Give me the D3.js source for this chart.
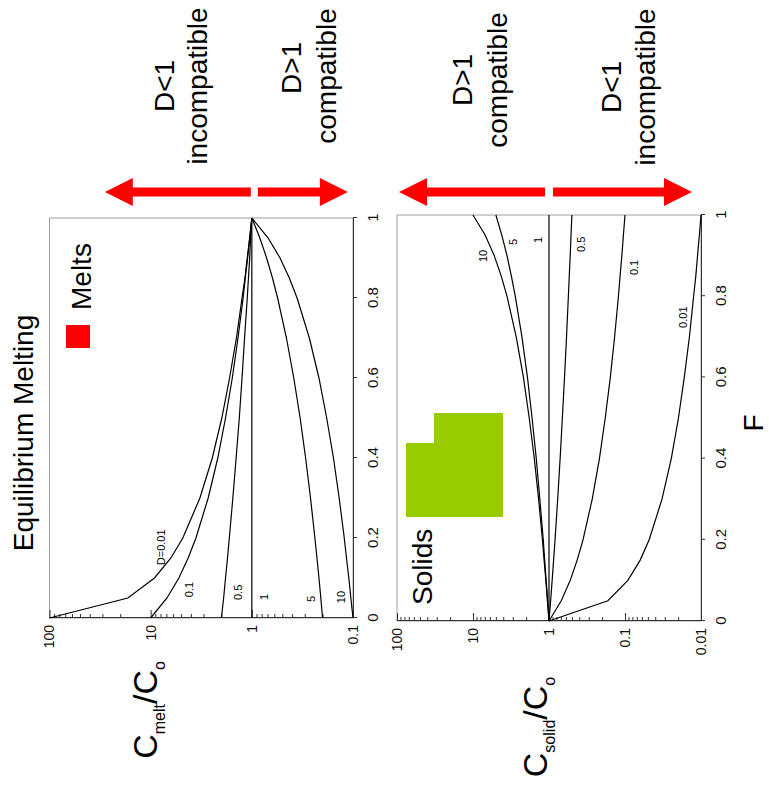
<!DOCTYPE html>
<html><head><meta charset="utf-8">
<script src="https://cdn.jsdelivr.net/npm/d3@7"></script>
<style>body{margin:0;background:#fff}</style>
</head><body>
<svg id="c" width="769" height="785"></svg>
<script>
// ---------- DATA ----------
const F = [0, 0.05, 0.1, 0.15, 0.2, 0.3, 0.4, 0.5, 0.6, 0.7, 0.8, 0.85, 0.9, 0.95, 1];
const fTicks = [0, 0.2, 0.4, 0.6, 0.8, 1];
const fTickLabels = ["0", "0.2", "0.4", "0.6", "0.8", "1"];

const meltTicks = [100, 10, 1, 0.1];
const meltTickLabels = ["100", "10", "1", "0.1"];
const solidTicks = [100, 10, 1, 0.1, 0.01];
const solidTickLabels = ["100", "10", "1", "0.1", "0.01"];

const Dlabels = ["0.01", "0.1", "0.5", "1", "5", "10"];

const melt_D001 = [100, 16.8, 9.17, 6.31, 4.81, 3.26, 2.46, 1.98, 1.66, 1.42, 1.25, 1.17, 1.11, 1.05, 1];
const melt_D01  = [10, 6.90, 5.26, 4.26, 3.57, 2.70, 2.17, 1.82, 1.56, 1.37, 1.22, 1.16, 1.10, 1.05, 1];
const melt_D05  = [2, 1.90, 1.82, 1.74, 1.67, 1.54, 1.43, 1.33, 1.25, 1.18, 1.11, 1.08, 1.05, 1.03, 1];
const melt_D1   = [1, 1, 1, 1, 1, 1, 1, 1, 1, 1, 1, 1, 1, 1, 1];
const melt_D5   = [0.2, 0.208, 0.217, 0.227, 0.238, 0.263, 0.294, 0.333, 0.385, 0.455, 0.556, 0.625, 0.714, 0.833, 1];
const melt_D10  = [0.1, 0.105, 0.110, 0.116, 0.122, 0.137, 0.156, 0.182, 0.217, 0.270, 0.357, 0.426, 0.526, 0.690, 1];

const solid_D001 = [1, 0.168, 0.0917, 0.0631, 0.0481, 0.0326, 0.0246, 0.0198, 0.0166, 0.0142, 0.0125, 0.0117, 0.0111, 0.0105, 0.01];
const solid_D01  = [1, 0.690, 0.526, 0.426, 0.357, 0.270, 0.217, 0.182, 0.156, 0.137, 0.122, 0.116, 0.110, 0.105, 0.1];
const solid_D05  = [1, 0.952, 0.909, 0.870, 0.833, 0.769, 0.714, 0.667, 0.625, 0.588, 0.556, 0.541, 0.526, 0.513, 0.5];
const solid_D1   = [1, 1, 1, 1, 1, 1, 1, 1, 1, 1, 1, 1, 1, 1, 1];
const solid_D5   = [1, 1.04, 1.09, 1.14, 1.19, 1.32, 1.47, 1.67, 1.92, 2.27, 2.78, 3.13, 3.57, 4.17, 5];
const solid_D10  = [1, 1.05, 1.10, 1.16, 1.22, 1.37, 1.56, 1.82, 2.17, 2.70, 3.57, 4.26, 5.26, 6.90, 10];

// curve label anchors (F, C)
const meltLabelText = ["D=0.01", "0.1", "0.5", "1", "5", "10"];
const meltLabelF = [0.132, 0.052, 0.045, 0.045, 0.04, 0.037];
const meltLabelC = [7.2, 3.8, 1.24, 0.70, 0.235, 0.119];
const solidLabelText = ["0.01", "0.1", "0.5", "1", "5", "10"];
const solidLabelF = [0.722, 0.852, 0.909, 0.931, 0.926, 0.884];
const solidLabelC = [0.0153, 0.0675, 0.336, 1.24, 2.6, 6.5];

// ---------- DRAWING ----------
const W = 769, H = 785;
const font = "'Liberation Sans', Arial, Helvetica, sans-serif";
const svg = d3.select("#c");
// whole figure is rotated 90deg counter-clockwise; local u = horizontal, v = vertical
const root = svg.append("g").attr("transform", `translate(0,${H}) rotate(-90)`)
  .attr("font-family", font);

function panel(cfg) {
  const x = d3.scaleLinear().domain([0, 1]).range([cfg.u0, cfg.u1]);
  const y = d3.scaleLog().domain(cfg.cDomain).range([cfg.v0, cfg.v1]);
  const g = root.append("g");
  g.append("rect").attr("x", cfg.u0).attr("y", cfg.v0)
    .attr("width", cfg.u1 - cfg.u0).attr("height", cfg.v1 - cfg.v0)
    .attr("fill", "none").attr("stroke", "#a0a0a0").attr("stroke-width", 1);

  const isDecade = t => Math.abs(Math.log10(t) - Math.round(Math.log10(t))) < 1e-6;
  const minor = y.ticks().filter(t => !isDecade(t));
  const ayMinor = d3.axisLeft(y).tickValues(minor).tickFormat("").tickSizeInner(-4).tickSizeOuter(0);
  const gm = g.append("g").attr("transform", `translate(${cfg.u0},0)`).call(ayMinor);
  gm.select(".domain").remove();
  const ay = d3.axisLeft(y).tickValues(cfg.ticks).tickFormat((d, i) => cfg.tickLabels[i])
    .tickSizeInner(-8).tickSizeOuter(0).tickPadding(7);
  const ga = g.append("g").attr("transform", `translate(${cfg.u0},0)`).call(ay);
  ga.selectAll("text").attr("font-size", 14).attr("font-family", font).attr("fill", "#111");
  [gm, ga].forEach(s => s.selectAll("line").attr("stroke", "#333"));
  ga.select(".domain").attr("stroke", "#333");

  const ax = d3.axisBottom(x).tickValues(fTicks).tickFormat((d, i) => fTickLabels[i])
    .tickSizeInner(4).tickSizeOuter(0).tickPadding(10);
  const gx = g.append("g").attr("transform", `translate(0,${cfg.v1})`).call(ax);
  gx.selectAll("text").attr("font-size", 15).attr("font-family", font).attr("fill", "#111");
  gx.selectAll("line").attr("stroke", "#333");
  gx.select(".domain").attr("stroke", "#333");

  const line = d3.line().x((d, i) => x(F[i])).y(d => y(d));
  cfg.series.forEach(s => {
    g.append("path").attr("d", line(s)).attr("fill", "none")
      .attr("stroke", "#000").attr("stroke-width", 1.2);
  });
  cfg.labelText.forEach((t, i) => {
    g.append("text").attr("x", x(cfg.labelF[i])).attr("y", y(cfg.labelC[i]))
      .attr("font-size", 11).attr("fill", "#000").text(t);
  });
  return { x, y };
}

const m = panel({
  u0: 167, u1: 567, v0: 49.5, v1: 353, cDomain: [100, 0.1],
  ticks: meltTicks, tickLabels: meltTickLabels,
  series: [melt_D001, melt_D01, melt_D05, melt_D1, melt_D5, melt_D10],
  labelText: meltLabelText, labelF: meltLabelF, labelC: meltLabelC
});
const s = panel({
  u0: 164, u1: 570, v0: 397, v1: 701, cDomain: [100, 0.01],
  ticks: solidTicks, tickLabels: solidTickLabels,
  series: [solid_D001, solid_D01, solid_D05, solid_D1, solid_D5, solid_D10],
  labelText: solidLabelText, labelF: solidLabelF, labelC: solidLabelC
});

// arrows
function arrow(uc, vs, vt) {
  const dir = Math.sign(vt - vs), hl = 28, hw = 14, sw = 4.5;
  const vb = vt - dir * hl;
  const pts = [[uc - sw, vs], [uc - sw, vb], [uc - hw, vb], [uc, vt], [uc + hw, vb], [uc + sw, vb], [uc + sw, vs]];
  root.append("polygon").attr("points", pts.map(p => p.join(",")).join(" ")).attr("fill", "#ff0000");
}
const au = 593;
arrow(au, m.y(1) - 1, m.y(1) - 147);
arrow(au, m.y(1) + 6, m.y(1) + 96);
arrow(au, s.y(1) - 4, s.y(1) - 150);
arrow(au, s.y(1) + 4, s.y(1) + 143);

function twoLine(u1, u2, v1, v2, a, b) {
  root.append("text").attr("x", u1).attr("y", v1).attr("text-anchor", "middle").attr("font-size", 28).text(a);
  root.append("text").attr("x", u2).attr("y", v2).attr("text-anchor", "middle").attr("font-size", 28).text(b);
}
twoLine(699, 699, 174, 207, "D<1", "incompatible");
twoLine(717, 709, 301, 336, "D>1", "compatible");
twoLine(705, 705, 472, 507, "D>1", "compatible");
twoLine(698, 698, 621, 655, "D<1", "incompatible");

// title
root.append("text").attr("x", 352).attr("y", 33).attr("text-anchor", "middle")
  .attr("font-size", 28).text("Equilibrium Melting");

// legends
root.append("rect").attr("x", 437).attr("y", 66).attr("width", 23).attr("height", 24).attr("fill", "#ff0000");
root.append("text").attr("x", 475).attr("y", 91).attr("font-size", 28).text("Melts");
root.append("polygon").attr("points", "268,406 342,406 342,434 372,434 372,503 268,503").attr("fill", "#99cc00");
root.append("text").attr("x", 180).attr("y", 432).attr("font-size", 28).text("Solids");

// axis titles
function ctitle(uc, v, sub) {
  const t = root.append("text").attr("x", uc).attr("y", v).attr("text-anchor", "middle").attr("font-size", 34);
  t.append("tspan").text("C");
  t.append("tspan").attr("font-size", 16).attr("dy", 8).text(sub);
  t.append("tspan").attr("dy", -8).text("/C");
  t.append("tspan").attr("font-size", 16).attr("dy", 8).text("o");
}
ctitle(75, 157, "melt");
ctitle(58, 547, "solid");
root.append("text").attr("x", 362).attr("y", 763).attr("text-anchor", "middle").attr("font-size", 28).text("F");
</script>
</body></html>
